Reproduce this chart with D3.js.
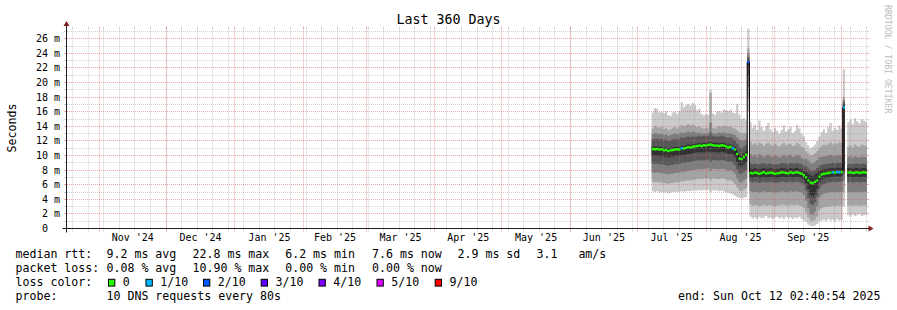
<!DOCTYPE html>
<html><head><meta charset="utf-8">
<script src="https://cdn.jsdelivr.net/npm/d3@7"></script>
<style>
html,body{margin:0;padding:0;background:#fff;}
svg{display:block;font-family:"DejaVu Sans Mono",monospace;}
text{white-space:pre;}
</style></head><body>
<svg id="chart" width="897" height="310" xml:space="preserve"></svg>
<script>
// ---------------- DATA ----------------
const title = "Last 360 Days";
const yAxisTitle = "Seconds";
const rangeStart = "2024-10-17T09:40:00Z";
const rangeEnd = "2025-10-12T09:40:00Z";
const firstDay = "2025-07-07T12:00:00Z";   // first consolidated (daily) sample
const stepDays = 1;

const monthLabels = ["Nov '24","Dec '24","Jan '25","Feb '25","Mar '25","Apr '25","May '25","Jun '25","Jul '25","Aug '25","Sep '25"];
const yTickValues = [0,2,4,6,8,10,12,14,16,18,20,22,24,26];
const yTickLabels = [" 0"," 2 m"," 4 m"," 6 m"," 8 m","10 m","12 m","14 m","16 m","18 m","20 m","22 m","24 m","26 m"];

// median rtt (ms)
const median = [
10.9,10.85,10.9,10.8,10.85,10.7,10.75,10.6,10.7,10.75,
10.8,10.85,10.8,11.0,10.95,11.05,11.15,11.1,11.2,11.25,
11.3,11.35,11.3,11.4,11.35,11.45,11.5,11.4,11.35,11.35,
11.3,11.4,11.35,11.25,11.1,11.2,11.0,10.8,10.2,9.6,
9.5,9.8,10.1,22.8,7.6,7.55,7.65,7.6,7.5,7.6,
7.7,7.55,7.6,7.65,7.6,7.5,7.55,7.6,7.7,7.65,
7.6,7.55,7.7,7.6,7.65,7.7,7.6,7.5,7.3,7.0,
6.6,6.3,6.2,6.4,6.6,7.1,7.4,7.5,7.55,7.6,
7.65,7.7,7.65,7.75,7.7,7.75,16.6,null,7.65,7.7,
7.6,7.65,7.7,7.6,7.65,7.7,7.65];
// lost pings out of 10
const loss = [
0,0,0,0,0,0,0,0,0,0,
0,0,0,1,0,0,0,0,0,0,
0,0,0,0,0,0,0,0,0,0,
0,0,0,0,0,0,1,0,0,0,
0,0,0,2,0,0,0,0,0,0,
0,0,0,0,0,0,0,0,0,0,
0,0,0,0,0,0,0,0,0,0,
0,0,0,0,0,0,0,0,0,0,
0,1,0,1,1,0,1,0,0,0,
0,0,0,0,0,0,0];
// sorted ping values (smoke), ping1 = lowest ... ping10 = highest
const ping1 = [
5.1,5.0,5.1,4.9,5.0,4.9,4.95,4.8,4.9,5.0,
5.0,5.05,5.0,5.1,5.05,5.1,5.15,5.1,5.2,5.2,
5.2,5.25,5.2,5.3,5.2,5.3,5.0,5.25,5.2,5.2,
5.1,5.2,5.1,5.0,4.9,4.8,4.7,4.5,4.3,4.2,
4.1,4.2,4.3,16.0,1.6,1.4,1.5,1.3,1.6,1.4,
1.5,1.7,1.4,1.5,1.3,1.5,1.6,1.4,1.5,1.3,
1.6,1.4,1.5,1.3,1.5,1.4,1.6,1.3,1.1,0.9,
0.5,0.3,0.3,0.4,0.6,1.0,1.1,1.2,1.0,1.3,
1.1,1.2,1.0,1.3,1.1,1.2,3.0,null,1.8,1.6,
1.9,1.7,1.8,2.0,1.7,1.8,1.9];
const ping2 = [
6.4,6.35,6.4,6.3,6.35,6.2,6.25,6.1,6.2,6.25,
6.3,6.35,6.3,6.5,6.45,6.55,6.6,6.55,6.65,6.7,
6.75,6.8,6.75,6.85,6.8,6.9,6.6,6.85,6.8,6.8,
6.75,6.85,6.8,6.7,6.55,6.6,6.4,6.1,5.6,5.2,
5.1,5.3,5.5,17.8,3.3,3.1,3.2,3.15,3.05,3.15,
3.25,3.1,3.15,3.2,3.15,3.05,3.1,3.15,3.25,3.2,
3.15,3.1,3.25,3.15,3.2,3.25,3.15,3.05,2.8,2.2,
1.5,1.1,1.0,1.2,1.6,2.5,2.8,2.9,2.95,3.0,
3.05,3.1,3.05,3.15,3.1,3.15,5.0,null,3.15,3.2,
3.1,3.15,3.2,3.1,3.15,3.2,3.15];
const ping3 = [
7.7,7.65,7.7,7.6,7.65,7.5,7.55,7.4,7.5,7.55,
7.6,7.65,7.6,7.8,7.75,7.85,7.95,7.9,8.0,8.05,
8.1,8.15,8.1,8.2,8.15,8.25,7.9,8.2,8.15,8.15,
8.1,8.2,8.15,8.05,7.9,8.0,7.8,7.5,6.9,6.4,
6.3,6.6,6.8,19.5,5.1,4.95,5.05,5.0,4.9,5.0,
5.1,4.95,5.0,5.05,5.0,4.9,4.95,5.0,5.1,5.05,
5.0,4.95,5.1,5.0,5.05,5.1,5.0,4.9,4.6,3.8,
2.8,2.0,1.9,2.3,3.0,4.2,4.6,4.8,4.85,4.9,
4.95,5.0,4.95,5.05,5.0,5.05,6.5,null,5.0,5.05,
4.95,5.0,5.05,4.95,5.0,5.05,5.0];
const ping4 = [
8.9,8.85,8.9,8.8,8.85,8.7,8.75,8.6,8.7,8.75,
8.8,8.85,8.8,9.0,8.95,9.05,9.15,9.1,9.2,9.25,
9.3,9.35,9.3,9.4,9.35,9.45,9.1,9.4,9.35,9.35,
9.3,9.4,9.35,9.25,9.1,9.2,9.0,8.7,8.1,7.6,
7.5,7.8,8.0,21.0,6.4,6.3,6.4,6.35,6.25,6.35,
6.45,6.3,6.35,6.4,6.35,6.25,6.3,6.35,6.45,6.4,
6.35,6.3,6.45,6.35,6.4,6.45,6.35,6.25,6.0,5.2,
4.2,3.4,3.2,3.6,4.4,5.4,5.9,6.1,6.2,6.3,
6.35,6.4,6.35,6.45,6.4,6.45,7.5,null,6.35,6.4,
6.3,6.35,6.4,6.3,6.35,6.4,6.35];
const ping5 = [
10.0,9.95,10.0,9.9,9.95,9.8,9.85,9.7,9.8,9.85,
9.9,9.95,9.9,10.1,10.05,10.15,10.25,10.2,10.3,10.35,
10.4,10.45,10.4,10.5,10.45,10.55,10.4,10.5,10.45,10.45,
10.4,10.5,10.45,10.35,10.2,10.3,10.1,9.8,9.1,8.6,
8.5,8.8,9.1,22.3,7.0,6.95,7.05,7.0,6.9,7.0,
7.1,6.95,7.0,7.05,7.0,6.9,6.95,7.0,7.1,7.05,
7.0,6.95,7.1,7.0,7.05,7.1,7.0,6.9,6.6,6.2,
5.4,4.6,4.4,4.7,5.4,6.3,6.7,6.9,6.95,7.0,
7.05,7.1,7.05,7.15,7.1,7.15,8.0,null,7.05,7.1,
7.0,7.05,7.1,7.0,7.05,7.1,7.05];
const ping6 = [
11.25,11.2,11.25,11.15,11.2,11.05,11.1,10.95,11.05,11.1,
11.15,11.2,11.15,11.35,11.3,11.4,11.5,11.45,11.55,11.6,
11.65,11.7,11.65,11.75,11.7,11.8,11.9,11.75,11.7,11.7,
11.65,11.75,11.7,11.6,11.45,11.55,11.35,11.15,10.6,10.1,
10.0,10.3,10.6,23.1,8.2,8.15,8.25,8.2,8.1,8.2,
8.3,8.15,8.2,8.25,8.2,8.1,8.15,8.2,8.3,8.25,
8.2,8.15,8.3,8.2,8.25,8.3,8.2,8.1,7.9,7.7,
7.5,7.3,7.2,7.4,7.6,7.9,8.0,8.1,8.15,8.2,
8.25,8.3,8.25,8.35,8.3,8.35,17.0,null,8.25,8.3,
8.2,8.25,8.3,8.2,8.25,8.3,8.25];
const ping7 = [
12.2,12.3,12.3,12.2,12.3,12.1,12.2,12.0,12.1,12.2,
12.3,12.2,12.3,12.5,12.4,12.5,12.6,12.5,12.6,12.6,
12.6,12.7,12.6,12.7,12.6,12.7,13.2,12.7,12.6,12.6,
12.6,12.7,12.6,12.5,12.4,12.5,12.3,12.1,11.6,11.2,
11.0,11.2,11.4,23.5,8.9,8.8,8.9,8.8,8.8,8.9,
9.0,8.8,8.9,8.9,8.8,8.8,8.8,8.8,9.0,8.9,
8.9,8.8,9.0,8.9,8.9,9.0,8.9,8.8,8.6,8.5,
8.2,7.9,7.8,8.0,8.3,8.6,8.7,8.8,8.8,8.9,
8.9,9.0,8.9,9.0,9.0,9.0,17.3,null,8.8,8.9,
8.8,8.9,8.9,8.8,8.9,8.9,8.8];
const ping8 = [
12.9,13.1,13.0,12.9,13.0,12.8,12.9,12.7,12.8,12.9,
13.0,12.9,13.0,13.2,13.1,13.2,13.3,13.2,13.3,13.2,
13.1,13.2,13.0,13.0,13.1,13.0,14.5,13.1,13.0,13.1,
13.2,13.1,13.2,13.1,13.0,13.1,12.9,12.8,12.5,12.2,
12.0,12.1,12.2,24.0,10.2,9.9,10.1,9.8,10.2,10.0,
9.8,10.0,10.1,9.9,9.8,10.0,9.9,9.7,9.9,10.1,
9.9,10.0,10.1,9.8,9.9,10.1,10.0,9.7,9.5,9.6,
9.3,9.0,8.9,9.1,9.4,9.8,9.8,9.9,9.9,10.0,
10.1,9.9,10.0,10.0,10.1,10.0,17.6,null,9.8,9.9,
9.7,9.9,9.8,9.7,9.9,9.8,9.8];
const ping9 = [
13.7,14.0,13.9,13.8,13.9,13.6,13.8,13.5,13.6,13.8,
13.9,13.7,13.9,14.2,14.0,14.1,14.3,14.1,14.2,14.0,
13.9,14.0,13.8,13.7,13.8,13.7,18.6,13.8,13.7,13.9,
14.0,13.9,14.1,14.0,13.9,14.0,13.8,13.7,13.5,13.2,
13.0,13.1,13.0,24.7,11.9,11.5,11.7,11.4,11.8,11.6,
11.3,11.6,11.8,11.5,11.3,11.6,11.4,11.2,11.5,11.7,
11.4,11.5,11.6,11.3,11.4,11.7,11.5,11.2,11.0,10.6,
10.3,10.0,10.1,10.3,10.6,11.0,11.3,11.5,11.4,11.6,
11.8,11.5,11.7,11.6,11.8,11.7,18.0,null,11.2,11.4,
11.1,11.5,11.3,11.2,11.5,11.4,11.3];
const ping10 = [
15.9,16.5,16.4,15.9,16.0,15.8,16.1,15.5,15.4,15.9,
16.0,15.7,16.1,17.3,16.6,16.9,17.1,16.8,17.2,16.9,
16.2,16.4,15.7,15.5,15.7,15.6,19.0,15.8,15.6,16.0,
16.1,15.9,16.3,16.2,16.1,16.3,15.9,15.8,17.1,15.6,
15.0,15.1,14.8,27.4,14.6,13.8,14.2,13.5,14.8,13.9,
13.4,14.0,14.5,13.6,13.2,13.8,13.4,13.0,13.5,14.1,
13.3,13.6,13.9,13.1,13.4,14.2,13.7,13.0,12.6,11.8,
11.4,11.0,11.2,11.5,12.0,12.6,13.2,13.6,13.1,13.9,
14.5,13.4,13.8,13.5,14.1,13.7,21.8,null,14.6,14.9,
14.3,15.1,14.7,14.4,15.0,14.8,14.6];

const lossLabels = ["0","1/10","2/10","3/10","4/10","5/10","9/10"];
const lossColors = ["#26ff00","#00b8ff","#0059ff","#5e00ff","#7e00ff","#dd00ff","#ff0000"];
const smokeColors = ["#cacaca","#a4a4a4","#7e7e7e","#585858","#323232"];

const statsRtt = [["median rtt:"],["9.2 ms avg"],["22.8 ms max"],["6.2 ms min"],["7.6 ms now"],["2.9 ms sd"],["3.1   am/s"]];
const statsLoss = [["packet loss:"],["0.08 % avg"],["10.90 % max"],["0.00 % min"],["0.00 % now"]];
const probeText = ["probe:", "10 DNS requests every 80s"];
const endText = "end: Sun Oct 12 02:40:54 2025";
const watermark = "RRDTOOL / TOBI OETIKER";

// ---------------- DRAW ----------------
const svg = d3.select("#chart");
const X0 = 67, X1 = 867, YT = 28.5, YB = 228.5;
const x = d3.scaleUtc().domain([new Date(rangeStart), new Date(rangeEnd)]).range([X0, X1]);
const y = d3.scaleLinear().domain([0, 27.4]).range([YB, YT]);
const sx = t => Math.round(x(t) - 0.5) + 0.5;
const sy = v => Math.round(y(v) - 0.5) + 0.5;

svg.append("rect").attr("width", 897).attr("height", 310).attr("fill", "#fff");

svg.append("clipPath").attr("id", "plot").append("rect")
  .attr("x", X0).attr("y", YT).attr("width", X1 - X0).attr("height", YB - YT);

const pings = [ping1, ping2, ping3, ping4, ping5, ping6, ping7, ping8, ping9, ping10];
const DAY = 864e5;
const t0 = Date.parse(firstDay);
const cols = median.map((m, i) => ({
  t: new Date(t0 + i * stepDays * DAY),
  t2: new Date(t0 + (i + 1) * stepDays * DAY),
  m, loss: loss[i], p: pings.map(a => a[i])
}));
const pts = [];
cols.forEach(c => {
  if (c.m == null) pts.push(null);
  else { pts.push({ t: c.t, c }); pts.push({ t: c.t2, c }); }
});

const data = svg.append("g").attr("clip-path", "url(#plot)");
// smoke
smokeColors.forEach((col, b) => {
  const area = d3.area().defined(d => d != null)
    .x(d => x(d.t)).y0(d => y(d.c.p[b])).y1(d => y(d.c.p[9 - b]));
  data.append("path").attr("d", area(pts)).attr("fill", col);
});

// grid
const grid = svg.append("g");
const gMinor = "rgba(143,143,143,0.42)", gMajor = "rgba(222,79,79,0.5)";
const minorH = d3.range(1, 28).filter(v => v % 2 === 1);
const majorH = yTickValues.filter(v => v > 0);
const weeks = d3.utcSunday.range(new Date(rangeStart), new Date(rangeEnd));
const months = d3.utcMonth.range(new Date(rangeStart), new Date(rangeEnd));
minorH.forEach(v => {
  grid.append("line").attr("x1", X0).attr("x2", X1).attr("y1", sy(v)).attr("y2", sy(v))
    .attr("stroke", gMinor).attr("stroke-dasharray", "1,1");
  grid.append("line").attr("x1", X0 - 3).attr("x2", X0 - 1).attr("y1", sy(v)).attr("y2", sy(v)).attr("stroke", gMinor);
  grid.append("line").attr("x1", X1).attr("x2", X1 + 2).attr("y1", sy(v)).attr("y2", sy(v)).attr("stroke", gMinor);
});
weeks.forEach(t => {
  grid.append("line").attr("x1", sx(t)).attr("x2", sx(t)).attr("y1", YT).attr("y2", YB)
    .attr("stroke", gMinor).attr("stroke-dasharray", "1,1");
  grid.append("line").attr("x1", sx(t)).attr("x2", sx(t)).attr("y1", YB + 1).attr("y2", YB + 3).attr("stroke", gMinor);
  grid.append("line").attr("x1", sx(t)).attr("x2", sx(t)).attr("y1", YT - 2).attr("y2", YT).attr("stroke", gMinor);
});
majorH.forEach(v => {
  grid.append("line").attr("x1", X0).attr("x2", X1).attr("y1", sy(v)).attr("y2", sy(v))
    .attr("stroke", gMajor).attr("stroke-dasharray", "1,1");
  grid.append("line").attr("x1", X0 - 3).attr("x2", X0 - 1).attr("y1", sy(v)).attr("y2", sy(v)).attr("stroke", gMajor);
  grid.append("line").attr("x1", X1).attr("x2", X1 + 2).attr("y1", sy(v)).attr("y2", sy(v)).attr("stroke", gMajor);
});
months.forEach(t => {
  grid.append("line").attr("x1", sx(t)).attr("x2", sx(t)).attr("y1", YT).attr("y2", YB)
    .attr("stroke", gMajor).attr("stroke-dasharray", "1,1");
  grid.append("line").attr("x1", sx(t)).attr("x2", sx(t)).attr("y1", YB + 1).attr("y2", YB + 3).attr("stroke", gMajor);
  grid.append("line").attr("x1", sx(t)).attr("x2", sx(t)).attr("y1", YT - 2).attr("y2", YT).attr("stroke", gMajor);
});

// median line + loss-coloured median band (one area per loss colour)
const data2 = svg.append("g").attr("clip-path", "url(#plot)");
const mline = d3.line().defined(d => d != null).x(d => x(d.t)).y(d => y(d.c.m));
data2.append("path").attr("d", mline(pts)).attr("fill", "none").attr("stroke", "#000").attr("stroke-width", 1);
const lossIdx = l => l <= 4 ? l : (l <= 8 ? 5 : 6);
lossColors.forEach((col, li) => {
  const a = d3.area().defined(d => d != null && lossIdx(d.c.loss) === li)
    .x(d => x(d.t)).y0(d => y(d.c.m) + 1.2).y1(d => y(d.c.m) - 1.2);
  data2.append("path").attr("d", a(pts)).attr("fill", col);
});

// axes
const axisCol = "#1f1f1f", arrowCol = "#801f1f";
svg.append("line").attr("x1", X0 - 4.5).attr("x2", X1 + 3).attr("y1", YB).attr("y2", YB).attr("stroke", axisCol);
svg.append("line").attr("x1", X0 - 0.5).attr("x2", X0 - 0.5).attr("y1", YB + 4).attr("y2", YT - 4).attr("stroke", axisCol);
svg.append("path").attr("d", `M${X1 + 1.5},${YB - 3}L${X1 + 1.5},${YB + 3}L${X1 + 6.5},${YB}Z`).attr("fill", arrowCol);
svg.append("path").attr("d", `M${X0 - 3.5},${YT - 2.5}L${X0 + 2.5},${YT - 2.5}L${X0 - 0.5},${YT - 7.5}Z`).attr("fill", arrowCol);

// y tick labels
yTickValues.forEach((v, i) => {
  svg.append("text").attr("x", 36).attr("y", sy(v) + 3.6)
    .attr("font-size", "10px").attr("fill", "#000").text(yTickLabels[i]);
});
// x labels (centered on month)
monthLabels.forEach((lab, i) => {
  const a = new Date(Date.UTC(2024, 10 + i, 1)), b = new Date(Date.UTC(2024, 11 + i, 1));
  svg.append("text").attr("x", (x(a) + x(b)) / 2).attr("y", 241)
    .attr("text-anchor", "middle").attr("font-size", "10px").attr("fill", "#000").text(lab);
});

// titles
svg.append("text").attr("x", 448.5).attr("y", 24).attr("text-anchor", "middle")
  .attr("font-size", "13.3px").attr("fill", "#000").text(title);
svg.append("text").attr("transform", "translate(15.5,128) rotate(-90)").attr("text-anchor", "middle")
  .attr("font-size", "11.6px").attr("fill", "#000").text(yAxisTitle);
svg.append("text").attr("transform", "translate(885,5) rotate(90)")
  .attr("font-size", "8.2px").attr("fill", "#bdbdbd").text(watermark);

// legend
const LF = "11.6px";
const colX = [15.5, 106.5, 192.5, 285.2, 372, 457.5, 536.5];
const leg = (txt, xx, yy) => svg.append("text").attr("x", xx).attr("y", yy).attr("font-size", LF).attr("fill", "#000").text(txt);
statsRtt.forEach((s, i) => leg(s[0], colX[i], 258.3));
statsLoss.forEach((s, i) => leg(s[0], colX[i], 272.2));
leg("loss color:", colX[0], 286.2);
const boxX = [108.5, 146, 203.5, 261.2, 319, 377, 435.2];
lossLabels.forEach((lab, i) => {
  svg.append("rect").attr("x", boxX[i]).attr("y", 279.3).attr("width", 6.3).attr("height", 6.8)
    .attr("fill", lossColors[i]).attr("stroke", "#000").attr("stroke-width", 1);
  leg(lab, boxX[i] + 14.3, 286.2);
});
leg(probeText[0], colX[0], 300.2);
leg(probeText[1], colX[1], 300.2);
svg.append("text").attr("x", 880.5).attr("y", 300.2).attr("text-anchor", "end")
  .attr("font-size", LF).attr("fill", "#000").text(endText);
</script>
</body></html>
